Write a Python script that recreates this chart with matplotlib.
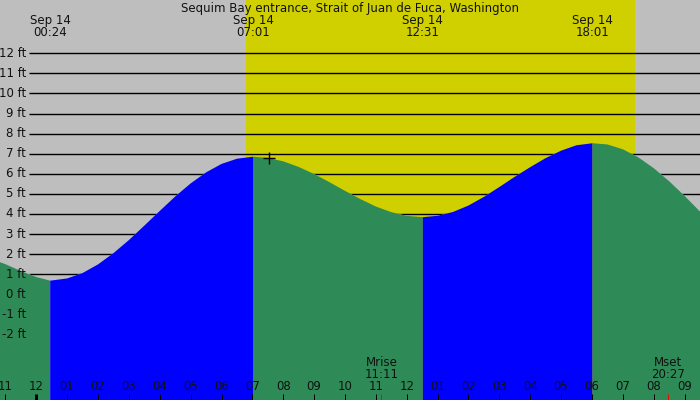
import matplotlib
matplotlib.use("Agg")
import matplotlib.pyplot as plt
from matplotlib.patches import Polygon

title = "Sequim Bay entrance, Strait of Juan de Fuca, Washington"

# tide heights (ft), times in hours from midnight Sep 14
times = [-1.18, -1.0, -0.5, 0.0, 0.45, 1.0, 1.5, 2.0, 2.5, 3.0, 3.5, 4.0, 4.5,
         5.0, 5.5, 6.0, 6.5, 7.02, 7.5, 8.0, 8.5, 9.0, 9.5, 10.0, 10.5, 11.0,
         11.5, 12.0, 12.52, 13.0, 13.5, 14.0, 14.5, 15.0, 15.5, 16.0, 16.5,
         17.0, 17.5, 18.02, 18.5, 19.0, 19.5, 20.0, 20.5, 21.0, 21.5]
heights = [1.60, 1.50, 1.16, 0.86, 0.68, 0.79, 1.06, 1.49, 2.05, 2.70, 3.42,
           4.15, 4.87, 5.52, 6.07, 6.49, 6.75, 6.85, 6.79, 6.62, 6.34, 5.99,
           5.58, 5.15, 4.74, 4.37, 4.09, 3.905, 3.84, 3.91, 4.10, 4.42, 4.85,
           5.34, 5.85, 6.33, 6.78, 7.15, 7.42, 7.52, 7.46, 7.22, 6.82, 6.28,
           5.63, 4.90, 4.12]

# high / low events
event_times = [0.45, 7.02, 12.52, 18.02]
event_labels = ["00:24", "07:01", "12:31", "18:01"]
event_date = "Sep 14"

sunrise, sunset = 6.79, 19.39
moon_times = [11.18, 20.45]
moon_names = ["Mrise", "Mset"]
moon_labels = ["11:11", "20:27"]

hour_ticks = list(range(-1, 22))
hour_labels = ["11", "12", "01", "02", "03", "04", "05", "06", "07", "08", "09",
               "10", "11", "12", "01", "02", "03", "04", "05", "06", "07", "08",
               "09"]
ft_levels = list(range(-2, 13))

now_time, now_height = 7.55, 6.77

GRAY = "#bebebe"
YELLOW = "#d0d000"
GREEN = "#2e8b57"
BLUE = "#0000ff"
TXT = "#111111"

x0, x1 = -1.176, 21.5
y0, y1 = -5.26, 14.65

fig = plt.figure(figsize=(7, 4), dpi=100, facecolor=GRAY)
ax = fig.add_axes([0, 0, 1, 1])
ax.set_xlim(x0, x1)
ax.set_ylim(y0, y1)
ax.axis("off")

ax.axvspan(sunrise, sunset, color=YELLOW, lw=0, zorder=0.2)

# region above the water surface: foot lines are only visible there
sky = Polygon(list(zip(times, heights)) + [(times[-1], y1 + 5), (times[0], y1 + 5)],
              closed=True, facecolor="none", edgecolor="none",
              transform=ax.transData)
ax.add_patch(sky)
lines = ax.hlines(ft_levels, x0 + (x1 - x0) * 29 / 700, x1, colors="black",
                  lw=1.0, zorder=0.5)
lines.set_clip_path(sky)

bounds = [0] + [times.index(t) for t in event_times] + [len(times) - 1]
for k in range(len(bounds) - 1):
    i, j = bounds[k], bounds[k + 1]
    rising = heights[j] > heights[i]
    ax.fill_between(times[i:j + 1], heights[i:j + 1], y0,
                    facecolor=BLUE if rising else GREEN, edgecolor="none",
                    zorder=2)

fs = 8.5
for f in ft_levels:
    ax.text(-0.33, f, f"{f} ft", ha="right", va="center", fontsize=fs,
            color=TXT, zorder=5)

ax.plot([now_time], [now_height], marker="+", color="black", ms=9, mew=1.0,
        zorder=6)

ax.text((x0 + x1) / 2, y1 - 0.4, title, ha="center", va="center", fontsize=fs,
        color=TXT, zorder=6)
for t, lab in zip(event_times, event_labels):
    ax.text(t, y1 - 1.0, event_date, ha="center", va="center", fontsize=fs,
            color=TXT, zorder=6)
    ax.text(t, y1 - 1.6, lab, ha="center", va="center", fontsize=fs,
            color=TXT, zorder=6)

for t, lab in zip(hour_ticks, hour_labels):
    ax.text(t, -4.6, lab, ha="center", va="center", fontsize=fs, color=TXT,
            zorder=6)
    lw = 3 if t == 0 else 1
    ax.plot([t, t], [-4.94, y0], color="black", lw=lw * 0.72,
            solid_capstyle="butt", zorder=6)

for t, nm, lab in zip(moon_times, moon_names, moon_labels):
    ax.text(t, -3.4, nm, ha="center", va="center", fontsize=fs, color=TXT,
            zorder=6)
    ax.text(t, -3.98, lab, ha="center", va="center", fontsize=fs, color=TXT,
            zorder=6)
    ax.plot([t, t], [-4.94, y0], color="red", lw=0.72, solid_capstyle="butt",
            zorder=6)

fig.savefig("out.png", dpi=100, facecolor=GRAY)
